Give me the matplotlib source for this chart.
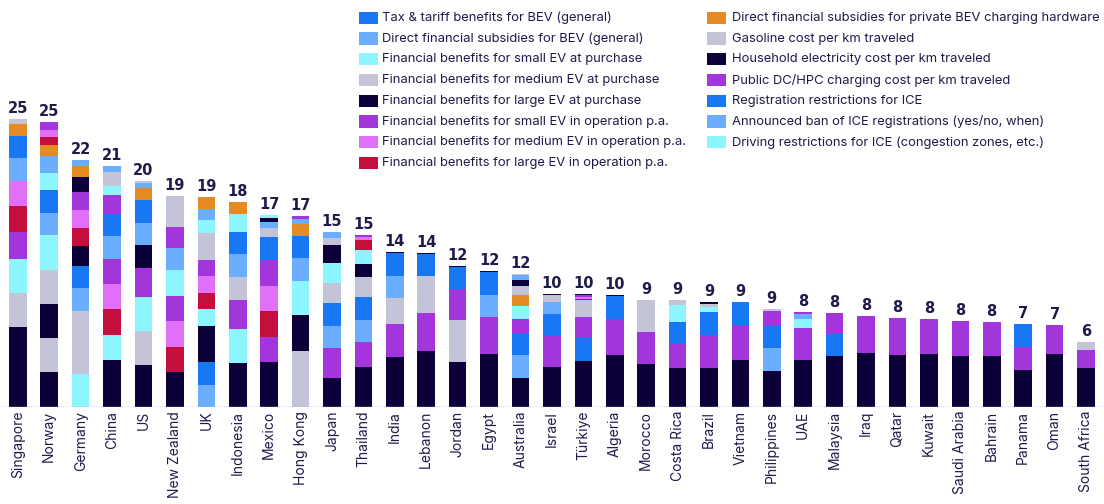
import matplotlib
matplotlib.use("Agg")
import matplotlib.pyplot as plt
from matplotlib.patches import Rectangle

countries = ["Singapore", "Norway", "Germany", "China", "US", "New Zealand", "UK",
             "Indonesia", "Mexico", "Hong Kong", "Japan", "Thailand", "India", "Lebanon",
             "Jordan", "Egypt", "Australia", "Israel", "Türkiye", "Algeria", "Morocco",
             "Costa Rica", "Brazil", "Vietnam", "Philippines", "UAE", "Malaysia", "Iraq",
             "Qatar", "Kuwait", "Saudi Arabia", "Bahrain", "Panama", "Oman", "South Africa"]

total_labels = [25, 25, 22, 21, 20, 19, 19, 18, 17, 17, 15, 15, 14, 14, 12, 12, 12, 10, 10, 10,
                9, 9, 9, 9, 9, 8, 8, 8, 8, 8, 8, 8, 7, 7, 6]

categories = [
    "Tax & tariff benefits for BEV (general)",
    "Direct financial subsidies for BEV (general)",
    "Financial benefits for small EV at purchase",
    "Financial benefits for medium EV at purchase",
    "Financial benefits for large EV at purchase",
    "Financial benefits for small EV in operation p.a.",
    "Financial benefits for medium EV in operation p.a.",
    "Financial benefits for large EV in operation p.a.",
    "Direct financial subsidies for private BEV charging hardware",
    "Gasoline cost per km traveled",
    "Household electricity cost per km traveled",
    "Public DC/HPC charging cost per km traveled",
    "Registration restrictions for ICE",
    "Announced ban of ICE registrations (yes/no, when)",
    "Driving restrictions for ICE (congestion zones, etc.)",
]

BLUE, LBLUE, CYAN, GRAY, NAVY = "#1877F2", "#6BAEFF", "#8DF5FF", "#C4C4D8", "#0D0038"
PURPLE, PINK, CRIMSON, ORANGE = "#A235DC", "#E070F8", "#C40F3C", "#E68A24"
colors = [BLUE, LBLUE, CYAN, GRAY, NAVY, PURPLE, PINK, CRIMSON, ORANGE,
          GRAY, NAVY, PURPLE, BLUE, LBLUE, CYAN]

tax_tariff = [1.91, 1.97, 1.91, 1.94, 2.00, 0, 2.00, 1.91, 2.00, 1.94, 2.00, 2.00, 1.97, 1.94, 1.91,
              2.00, 1.91, 1.94, 2.03, 2.00, 0, 1.91, 2.00, 0, 1.91, 0, 0, 0, 0, 0, 0, 0, 0, 0, 0]
bev_subsidies = [2.03, 1.94, 2.00, 2.00, 1.91, 1.91, 1.88, 2.00, 0.52, 1.97, 1.91, 1.91, 1.97, 0, 0,
                 1.91, 2.00, 1.01, 0, 0, 0, 0, 0, 0, 2.00, 0.46, 0, 0, 0, 0, 0, 0, 0, 0, 0]
small_purchase = [2.90, 3.04, 2.84, 2.17, 2.96, 2.26, 1.48, 2.93, 0.20, 2.96, 1.74, 1.22, 0, 0, 0,
                  0, 1.13, 0, 0, 0, 0, 1.48, 0.43, 0, 0, 0.78, 0, 0, 0, 0, 0, 0, 0, 0, 0]
medium_purchase = [2.96, 2.96, 2.75, 0.61, 2.99, 1.35, 1.22, 2.00, 0, 0, 1.74, 1.74, 2.23, 0, 0,
                   0, 0.78, 0.58, 1.48, 0, 0, 0.43, 0.26, 0, 0.17, 0, 0, 0, 0, 0, 0, 0, 0, 0, 0]
large_purchase = [2.90, 2.93, 1.71, 0, 1.97, 0, 0, 0, 0.40, 0, 1.57, 1.13, 0.09, 0.06, 0.09,
                  0.09, 0.52, 0.09, 0.09, 0.09, 0, 0, 0.17, 0, 0, 0, 0, 0, 0, 0, 0, 0, 0, 0, 0]
small_operation = [0, 0.67, 1.57, 2.17, 0, 2.17, 1.39, 0, 2.26, 0, 0, 0.17, 0, 0, 0,
                   0, 0, 0, 0.14, 0, 0, 0, 0, 0, 0, 0.14, 0, 0, 0, 0, 0, 0, 0, 0, 0]
medium_operation = [2.17, 0.64, 1.57, 2.17, 0, 2.23, 1.48, 0, 2.17, 0, 0, 0.26, 0, 0, 0,
                    0, 0, 0, 0.17, 0, 0, 0, 0, 0, 0, 0, 0, 0, 0, 0, 0, 0, 0, 0, 0]
large_operation = [2.23, 0.70, 1.57, 2.26, 0, 2.23, 1.39, 0, 2.23, 0, 0, 0.87, 0, 0, 0,
                   0, 0, 0, 0.12, 0, 0, 0, 0, 0, 0, 0, 0, 0, 0, 0, 0, 0, 0, 0, 0]
charging_hardware = [1.01, 0.96, 0.96, 0, 1.07, 0, 1.07, 1.04, 0, 1.04, 0, 0, 0, 0, 0,
                     0, 0.96, 0, 0, 0, 0, 0, 0, 0, 0, 0, 0, 0, 0, 0, 0, 0, 0, 0, 0]
gasoline_cost = [0.43, 2.96, 2.76, 0.61, 0.17, 1.35, 1.16, 0, 0.78, 4.87, 0.61, 0, 0, 3.22, 3.65,
                 0, 0.14, 0, 0, 0, 2.78, 0, 0, 0, 0, 0, 0, 0, 0, 0, 0, 0, 0, 0, 0.70]
household_electricity = [4.05, 3.04, 1.30, 4.06, 3.62, 2.99, 3.13, 3.83, 3.91, 3.13, 2.52, 3.48,
                         4.35, 4.84, 3.88, 4.58, 2.49, 3.48, 3.97, 4.46, 3.71, 3.39, 3.39, 4.09,
                         3.10, 4.06, 4.41, 4.70, 4.49, 4.58, 4.38, 4.38, 3.19, 4.61, 3.39]
public_charging = [2.40, 0, 0, 1.62, 2.52, 1.83, 0, 2.52, 2.17, 0.26, 2.58, 2.14, 2.84, 3.30, 2.70,
                   3.22, 1.22, 2.67, 1.80, 3.16, 2.78, 2.06, 2.84, 2.99, 1.30, 2.78, 1.83, 3.19,
                   3.25, 3.01, 3.04, 2.96, 2.00, 2.49, 1.54]
registration_restrictions = [0, 0, 0, 0, 0, 0, 0, 0, 0, 0, 0, 0, 0, 0, 0, 0, 0, 0, 0, 0, 0, 0, 0,
                             2.03, 0, 0, 1.91, 0, 0, 0, 0, 0, 2.00, 0, 0]
ice_ban = [0, 1.45, 0.52, 0.52, 0.41, 0, 0.93, 0, 0, 0.41, 0.52, 0, 0, 0, 0,
           0, 0.43, 0, 0, 0, 0, 0, 0, 0, 0, 0, 0, 0, 0, 0, 0, 0, 0, 0, 0]
driving_restrictions = [0, 1.51, 0, 0.78, 0, 0, 1.10, 1.57, 0, 0, 0, 0, 0, 0, 0,
                        0, 0, 0, 0, 0, 0, 0, 0, 0, 0, 0, 0, 0, 0, 0, 0, 0, 0, 0, 0]

series = [tax_tariff, bev_subsidies, small_purchase, medium_purchase, large_purchase,
          small_operation, medium_operation, large_operation, charging_hardware,
          gasoline_cost, household_electricity, public_charging,
          registration_restrictions, ice_ban, driving_restrictions]

# stacking order per country (category indices, bottom -> top)
stack_order = [
    [10, 4, 3, 2, 11, 7, 6, 1, 0, 8, 9],
    [10, 9, 4, 3, 2, 1, 0, 14, 13, 8, 7, 6, 5],
    [2, 9, 3, 1, 0, 4, 7, 6, 5, 10, 8, 13],
    [10, 2, 7, 6, 5, 1, 0, 11, 14, 9, 3, 13],
    [10, 3, 2, 11, 4, 1, 0, 8, 13, 9],
    [10, 7, 6, 5, 2, 1, 11, 9, 3],
    [1, 0, 10, 2, 7, 6, 5, 3, 9, 14, 13, 8],
    [10, 2, 11, 3, 1, 0, 14, 8],
    [10, 11, 7, 6, 5, 0, 9, 1, 4, 2],
    [9, 10, 2, 1, 0, 8, 13, 11],
    [10, 11, 1, 0, 3, 2, 4, 9, 13],
    [10, 11, 1, 0, 3, 4, 2, 7, 6, 5],
    [10, 11, 3, 1, 0, 4],
    [10, 11, 9, 0, 4],
    [10, 9, 11, 0, 4],
    [10, 11, 1, 0, 4],
    [10, 1, 0, 11, 2, 8, 3, 4, 13, 9],
    [10, 11, 0, 1, 3, 4],
    [10, 0, 11, 3, 7, 6, 5, 4],
    [10, 11, 0, 4],
    [10, 11, 9],
    [10, 11, 0, 2, 3],
    [10, 11, 0, 2, 3, 4],
    [10, 11, 12],
    [10, 1, 0, 11, 3],
    [10, 11, 2, 1, 5],
    [10, 12, 11],
    [10, 11], [10, 11], [10, 11], [10, 11], [10, 11],
    [10, 11, 12],
    [10, 11],
    [10, 11, 9],
]

TEXT = "#1E1B4B"
W, H = 1104, 504
fig = plt.figure(figsize=(W / 100, H / 100), dpi=100)
ax = fig.add_axes([2.09 / W, (H - 406.7) / H, 1099.6 / W, 345 / H])

for i in range(len(countries)):
    bottom = 0.0
    for k in stack_order[i]:
        v = series[k][i]
        ax.bar(i, v, bottom=bottom, width=0.56, color=colors[k], linewidth=0)
        bottom += v
    ax.annotate(str(total_labels[i]), (i, bottom), xytext=(0, 4.3),
                textcoords="offset points", ha="center", va="baseline",
                fontsize=10.5, fontweight="bold", color=TEXT, family="DejaVu Sans")

ax.set_xlim(-0.5, len(countries) - 0.5)
ax.set_ylim(0, 30)
ax.axhline(0, color="#B4B4C8", lw=1.0)
for s in ax.spines.values():
    s.set_visible(False)
ax.set_yticks([])
ax.set_xticks(range(len(countries)))
ax.set_xticklabels(countries, rotation=90, fontsize=10, color=TEXT, family="Inter")
ax.tick_params(axis="x", length=0, pad=3)

# legend (two columns)
for j, (name, col) in enumerate(zip(categories, colors)):
    column, row = divmod(j, 8)
    px = 359 if column == 0 else 707
    tx = 382.3 if column == 0 else 731.7
    yc = 17.8 + 20.75 * row
    fig.patches.append(Rectangle((px / W, 1 - (yc + 6.15) / H), 18.7 / W, 12.3 / H,
                                 transform=fig.transFigure, facecolor=col,
                                 edgecolor="none", figure=fig))
    fig.text(tx / W, 1 - yc / H, name, ha="left", va="center", fontsize=9.35,
             color=TEXT, family="Inter")

fig.savefig("out.png", dpi=100)
